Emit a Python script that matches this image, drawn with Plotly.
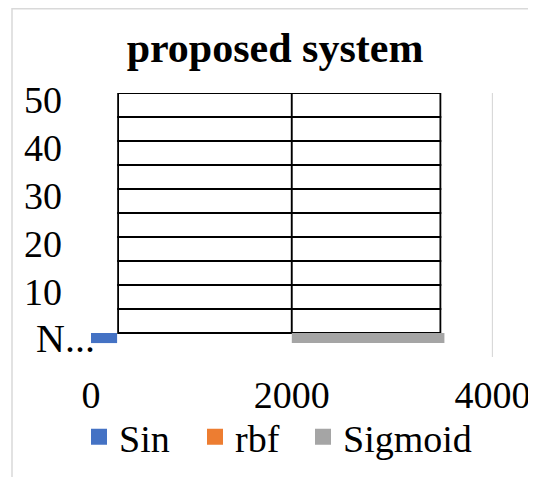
import plotly.graph_objects as go

# ---- data ----
categories = ["N...", "5", "10", "15", "20", "25", "30", "35", "40", "45", "50"]
shown_tick_labels = ["N...", "10", "20", "30", "40", "50"]

series_names = ["Sin", "rbf", "Sigmoid"]
series_colors = ["#4472C4", "#ED7D31", "#A5A5A5"]

# colored bars (first category only)
sin_category = ["N..."]
sin_values = [260]
sin_base = [0]
rbf_category = ["N..."]
rbf_values = [0]
rbf_base = [260]
sigmoid_category = ["N..."]
sigmoid_values = [1520]
sigmoid_base = [2000]

# outlined (unfilled) boxes for the other categories
frame_categories = ["5", "10", "15", "20", "25", "30", "35", "40", "45", "50"]
frame_left_base = [270, 270, 270, 270, 270, 270, 270, 270, 270, 270]
frame_left_values = [1730, 1730, 1730, 1730, 1730, 1730, 1730, 1730, 1730, 1730]
frame_right_base = [2000, 2000, 2000, 2000, 2000, 2000, 2000, 2000, 2000, 2000]
frame_right_values = [1480, 1480, 1480, 1480, 1480, 1480, 1480, 1480, 1480, 1480]

x_ticks = [0, 2000, 4000]
x_tick_labels = ["0", "2000", "4000"]

FONT = "Liberation Serif, Times New Roman, serif"

# page body has an 8px margin: figure is 528x469 placed at (8, 8)
W, H = 528, 469
ML, MT, MR = 83, 85, 43
PW, PH = W - ML - MR, 264
MB = H - MT - PH

fig = go.Figure()

for base, vals in [(frame_left_base, frame_left_values), (frame_right_base, frame_right_values)]:
    fig.add_trace(go.Bar(
        y=frame_categories, x=vals, base=base, orientation="h", width=1.0,
        marker=dict(color="white", line=dict(color="black", width=1.8)),
        showlegend=False, hoverinfo="skip",
    ))

for cats, vals, base, color in [
    (sin_category, sin_values, sin_base, series_colors[0]),
    (rbf_category, rbf_values, rbf_base, series_colors[1]),
    (sigmoid_category, sigmoid_values, sigmoid_base, series_colors[2]),
]:
    fig.add_trace(go.Bar(
        y=cats, x=vals, base=base, orientation="h", width=0.42, offset=0.08,
        marker=dict(color=color, line=dict(width=0)),
        showlegend=False,
    ))

# legend entries, one legend each so they can be spaced like the original
legend_x_px = [71, 187, 295]
legend_names = ["legend", "legend2", "legend3"]
for name, color, lg in zip(series_names, series_colors, legend_names):
    fig.add_trace(go.Scatter(
        x=[None], y=[None], mode="markers", name=name, legend=lg,
        marker=dict(symbol="square", size=16, color=color),
    ))

legend_common = dict(orientation="h", xanchor="left", y=-80 / PH, yanchor="middle",
                     font=dict(family=FONT, size=38, color="black"),
                     bgcolor="rgba(0,0,0,0)")
legend_layout = {}
for lg, px in zip(legend_names, legend_x_px):
    legend_layout[lg] = dict(x=(px - ML) / PW, **legend_common)

# tick texts: "N..." drawn as an annotation (it sits further right in the original)
y_ticktext = ["" if t == categories[0] else t for t in shown_tick_labels]

fig.update_layout(
    width=W, height=H,
    margin=dict(l=ML, r=MR, t=MT, b=MB, autoexpand=False),
    paper_bgcolor="white", plot_bgcolor="white",
    barmode="overlay",
    font=dict(family=FONT, size=38, color="black"),
    title=dict(text="<b>proposed system</b>", x=267 / W, xanchor="center",
               y=1 - 39 / H, yanchor="middle",
               font=dict(family=FONT, size=42, color="black")),
    xaxis=dict(range=[0, 4004], tickvals=x_ticks, ticktext=x_tick_labels,
               showgrid=False, zeroline=False, showline=False, ticks="",
               ticklabelstandoff=12, tickfont=dict(family=FONT, size=38)),
    yaxis=dict(type="category", categoryorder="array", categoryarray=categories,
               range=[-0.5, 10.5], tickvals=shown_tick_labels, ticktext=y_ticktext,
               showgrid=False, zeroline=False, showline=False, ticks="",
               ticklabelstandoff=28, ticklabelshift=-5,
               tickfont=dict(family=FONT, size=38)),
    annotations=[dict(text=categories[0], xref="paper", yref="y",
                      x=(89 - ML) / PW, y=categories[0], xanchor="right", yanchor="middle",
                      yshift=7, showarrow=False,
                      font=dict(family=FONT, size=40, color="black"))],
    shapes=[
        dict(type="line", xref="x", yref="paper", x0=4000, x1=4000, y0=0, y1=1,
             line=dict(color="#d9d9d9", width=1.5), layer="below"),
        dict(type="rect", xref="paper", yref="paper",
             x0=(4 - ML) / PW, x1=(W + 10 - ML) / PW,
             y0=(MT + PH - H - 10) / PH, y1=(MT + PH - 0.8) / PH,
             line=dict(color="#d9d9d9", width=1.5), fillcolor="rgba(0,0,0,0)",
             layer="below"),
    ],
    **legend_layout,
)

fig.write_html("out.html")
